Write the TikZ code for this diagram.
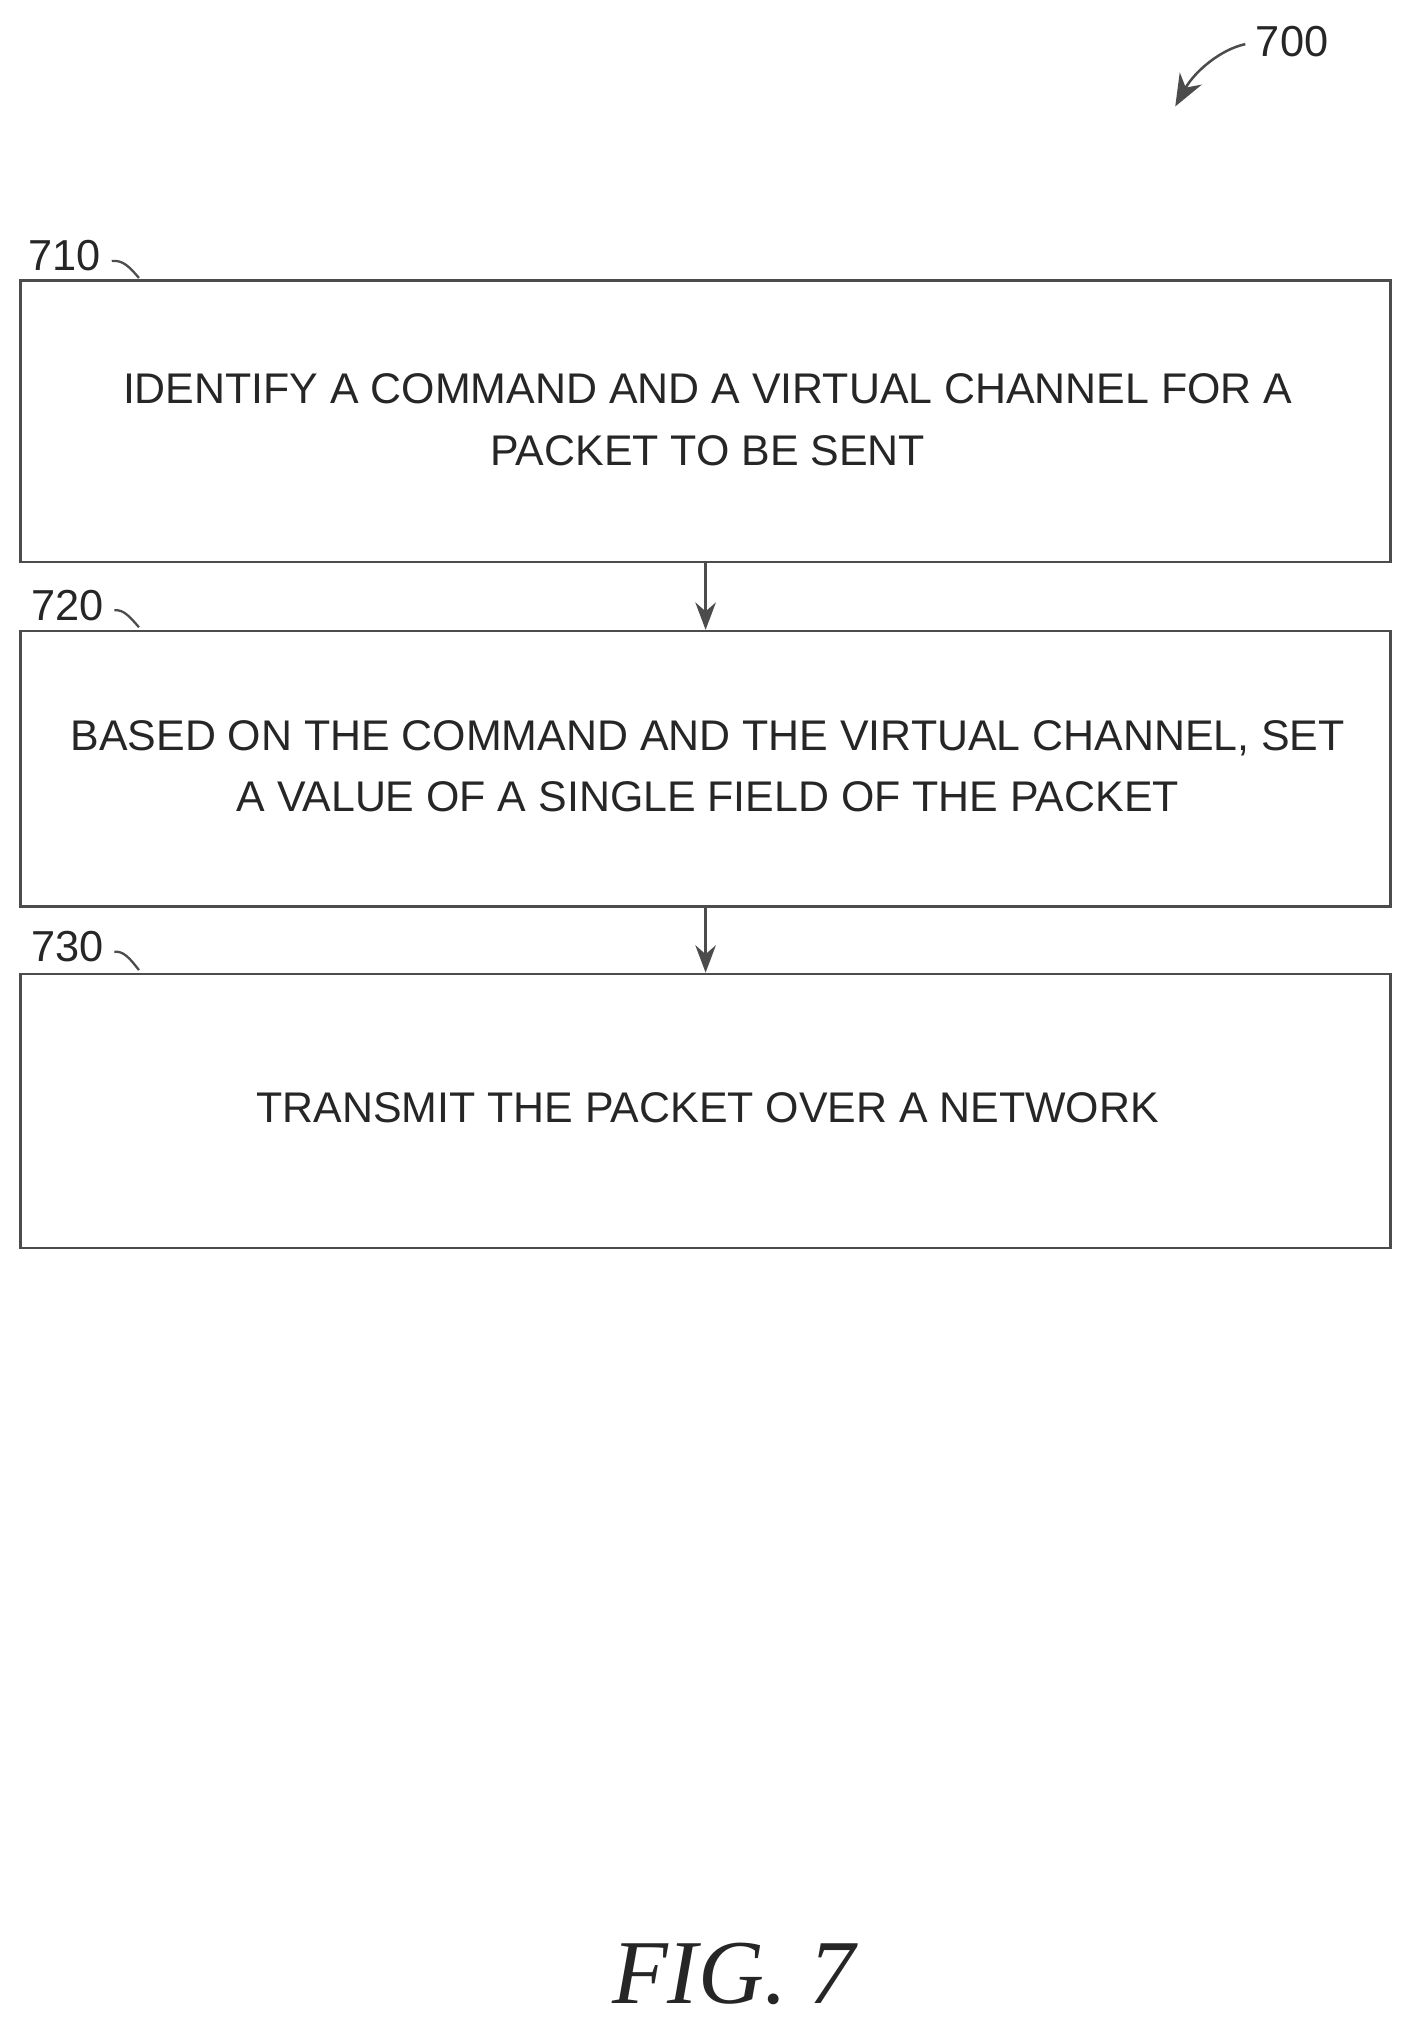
\documentclass[tikz,border=0pt]{standalone}
\usepackage{fontspec}
\setmainfont{Liberation Sans}
\newfontfamily\figfont{Liberation Serif}
\usetikzlibrary{arrows.meta}
\begin{document}
\begin{tikzpicture}[x=0.02cm,y=-0.02cm,
  stepbox/.style={draw=black!70,line width=1.1pt,minimum width=21.1cm,minimum height=#1,anchor=north west,inner sep=0pt},
  boxtext/.style={align=center,font=\fontsize{18.8}{27}\selectfont,text=black!85},
  lbl/.style={font=\fontsize{19}{24}\selectfont,text=black!85},
  conn/.style={draw=black!70,line width=1.1pt,-{Stealth[length=12pt,width=9pt]}}]
\useasboundingbox (0,0) rectangle (1090,1564);
\node[stepbox=4.34cm] (b1) at (15,215) {};
\node[stepbox=4.24cm] (b2) at (15,485) {};
\node[stepbox=4.22cm] (b3) at (15,749) {};
\node[boxtext] (t1) at (545,323) {IDENTIFY A COMMAND AND A VIRTUAL CHANNEL FOR A\\PACKET TO BE SENT};
\node[boxtext] (t2) at (545,590) {BASED ON THE COMMAND AND THE VIRTUAL CHANNEL, SET\\A VALUE OF A SINGLE FIELD OF THE PACKET};
\node[boxtext] (t3) at (545,853) {TRANSMIT THE PACKET OVER A NETWORK};
\draw[conn] (b1.south) -- (b2.north);
\draw[conn] (b2.south) -- (b3.north);
\node[lbl] (l1) at (50,197) {710};
\node[lbl] (l2) at (52,466) {720};
\node[lbl] (l3) at (52,729) {730};
\coordinate (c1) at (107,214); \coordinate (c2) at (107,483); \coordinate (c3) at (107,747);
\draw[black!70,line width=1pt] (l1.east) ++(2,4) .. controls (95,200) and (100,206) .. (c1);
\draw[black!70,line width=1pt] (l2.east) ++(2,4) .. controls (95,469) and (100,475) .. (c2);
\draw[black!70,line width=1pt] (l3.east) ++(2,4) .. controls (95,732) and (100,738) .. (c3);
\node[lbl] (l0) at (995,32) {700};
\coordinate (a0) at (905,82);
\draw[black!70,line width=1.1pt,-{Stealth[length=14pt,width=11pt]}] (l0.west) ++(-2,2) .. controls (940,38) and (920,55) .. (a0);
\node[font=\figfont\itshape\fontsize{40}{44}\selectfont,text=black!85] (fig) at (565,1520) {FIG.\ 7};
\end{tikzpicture}
\end{document}
